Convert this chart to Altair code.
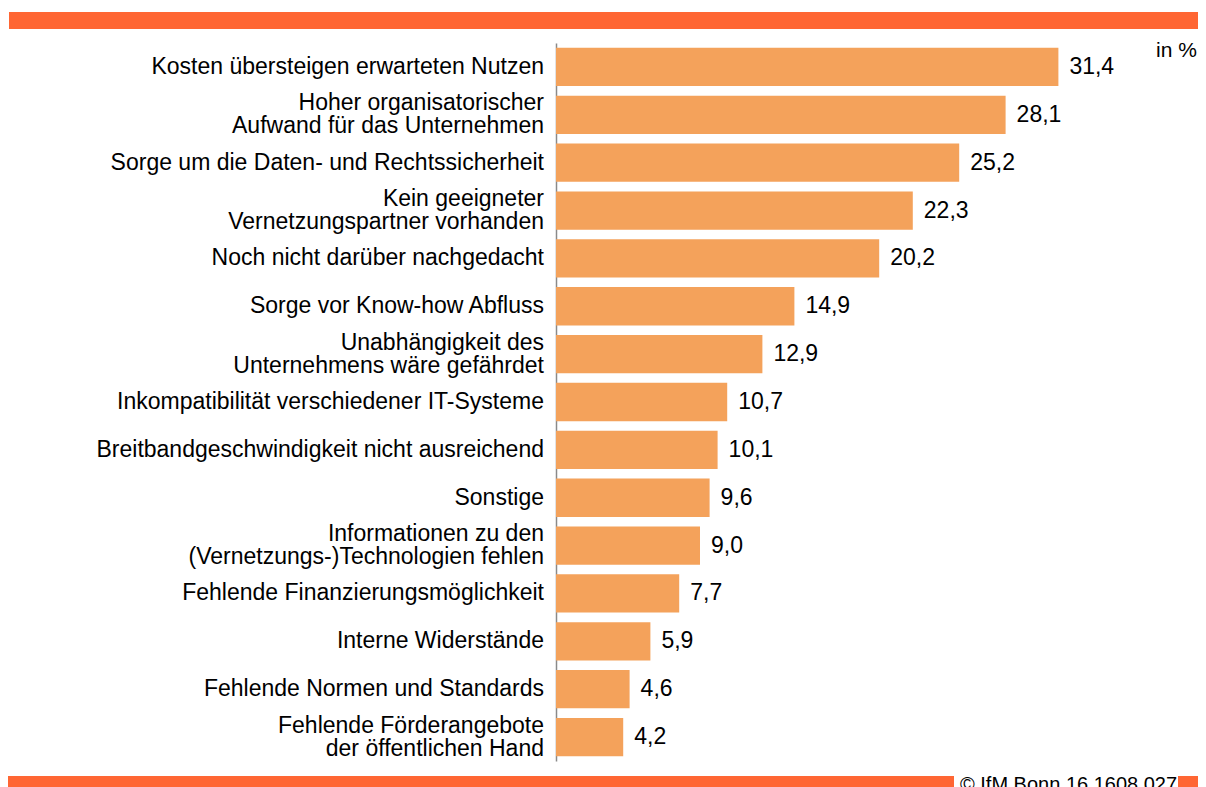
import altair as alt
import pandas as pd

categories = [
    "Kosten übersteigen erwarteten Nutzen",
    "Hoher organisatorischer\nAufwand für das Unternehmen",
    "Sorge um die Daten- und Rechtssicherheit",
    "Kein geeigneter\nVernetzungspartner vorhanden",
    "Noch nicht darüber nachgedacht",
    "Sorge vor Know-how Abfluss",
    "Unabhängigkeit des\nUnternehmens wäre gefährdet",
    "Inkompatibilität verschiedener IT-Systeme",
    "Breitbandgeschwindigkeit nicht ausreichend",
    "Sonstige",
    "Informationen zu den\n(Vernetzungs-)Technologien fehlen",
    "Fehlende Finanzierungsmöglichkeit",
    "Interne Widerstände",
    "Fehlende Normen und Standards",
    "Fehlende Förderangebote\nder öffentlichen Hand",
]
values = [31.4, 28.1, 25.2, 22.3, 20.2, 14.9, 12.9, 10.7, 10.1, 9.6, 9.0, 7.7, 5.9, 4.6, 4.2]

unit_label = "in %"
copyright_text = "© IfM Bonn 16.1608.027"

df = pd.DataFrame({"kategorie": categories, "wert": values})

FONT = "Liberation Sans"
W, H = 560, 718
BAR = "#F4A25B"
BAND = "#FF6633"
LABEL_SIZE = 23
LINE_H = 23

base = alt.Chart(df)

y_enc = alt.Y(
    "kategorie:N",
    sort=None,
    scale=alt.Scale(paddingInner=0.2, paddingOuter=0.1),
    axis=alt.Axis(
        title=None,
        labels=False,
        ticks=False,
        domainColor="#8a8a8a",
        domainWidth=1.5,
        grid=False,
    ),
)
x_enc = alt.X("wert:Q", scale=alt.Scale(domain=[0, 35]), axis=None)

bars = base.mark_bar(color=BAR).encode(y=y_enc, x=x_enc)

value_labels = base.transform_calculate(
    lbl="replace(format(datum.wert, '.1f'), '.', ',')"
).mark_text(
    align="left", baseline="middle", dx=11, fontSize=LABEL_SIZE, font=FONT, color="#000000"
).encode(y=y_enc, x=x_enc, text="lbl:N")

single_labels = base.transform_filter(
    "indexof(datum.kategorie, '\\n') < 0"
).mark_text(
    align="right", baseline="middle", fontSize=LABEL_SIZE, font=FONT, color="#000000"
).encode(y=y_enc, x=alt.value(-12), text="kategorie:N")

double_labels = base.transform_filter(
    "indexof(datum.kategorie, '\\n') >= 0"
).mark_text(
    align="right", baseline="middle", fontSize=LABEL_SIZE, font=FONT, color="#000000",
    lineBreak="\n", lineHeight=LINE_H, dy=-LINE_H / 2,
).encode(y=y_enc, x=alt.value(-12), text="kategorie:N")

deco = alt.Data(values=[{"k": 1}])

top_band = alt.Chart(deco).mark_rect(color=BAND).encode(
    x=alt.value(-547), x2=alt.value(642), y=alt.value(-31), y2=alt.value(-14)
)
bottom_band_left = alt.Chart(deco).mark_rect(color=BAND).encode(
    x=alt.value(-548), x2=alt.value(398), y=alt.value(733), y2=alt.value(750)
)
bottom_band_right = alt.Chart(deco).mark_rect(color=BAND).encode(
    x=alt.value(622), x2=alt.value(642), y=alt.value(733), y2=alt.value(750)
)
copyright_mark = alt.Chart(deco).mark_text(
    align="left", baseline="alphabetic", fontSize=20, font=FONT, color="#000000"
).encode(x=alt.value(404), y=alt.value(748), text=alt.value(copyright_text))

unit_mark = alt.Chart(deco).mark_text(
    align="left", baseline="alphabetic", fontSize=21, font=FONT, color="#000000"
).encode(x=alt.value(600), y=alt.value(14), text=alt.value(unit_label))

chart = alt.layer(
    top_band, bars, value_labels, single_labels, double_labels,
    bottom_band_left, bottom_band_right, copyright_mark, unit_mark
).properties(
    width=W,
    height=H,
    autosize="none",
    padding={"left": 548, "top": 35, "right": 82, "bottom": 26},
    background="white",
).configure_view(stroke=None)

chart.save("out.html", embed_options={"renderer": "svg", "actions": False})
